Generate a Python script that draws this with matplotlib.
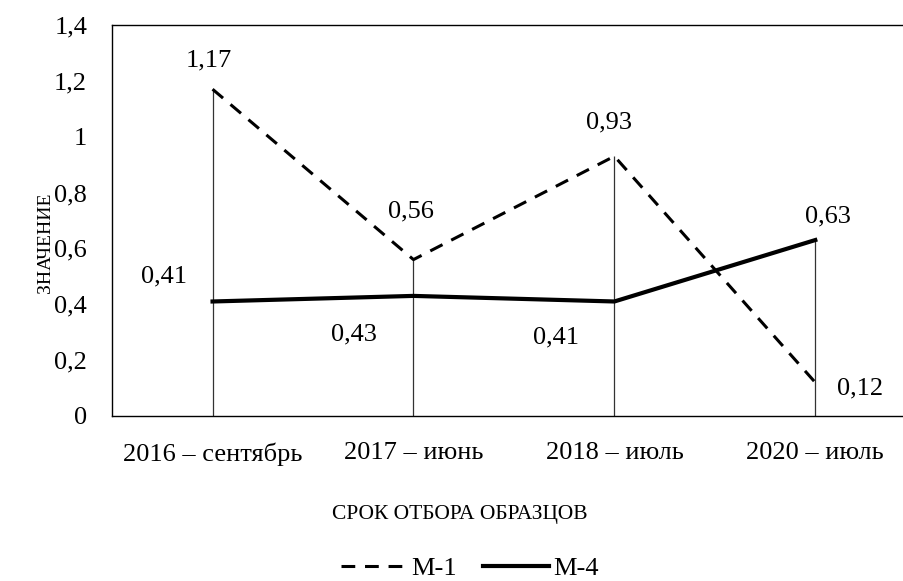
import matplotlib
matplotlib.use("Agg")
import matplotlib.pyplot as plt

plt.rcParams['font.family'] = ['Liberation Serif', 'DejaVu Serif']

# --- data ---
categories = ["2016 – сентябрь", "2017 – июнь", "2018 – июль", "2020 – июль"]
m1 = [1.17, 0.56, 0.93, 0.12]
m4 = [0.41, 0.43, 0.41, 0.63]
yticks = [0, 0.2, 0.4, 0.6, 0.8, 1.0, 1.2, 1.4]
ytick_labels = ["0", "0,2", "0,4", "0,6", "0,8", "1", "1,2", "1,4"]

# label offsets in points (placement only)
m1_offsets = [(-3, 21), (-2, 35), (-4, 24), (32, -4)]
m4_offsets = [(-35, 18), (-43, -28), (-42, -26), (9, 17)]

fig = plt.figure(figsize=(9.04, 5.81), dpi=100)
ax = fig.add_axes([0.124, 0.284, 0.889, 0.673])

x = list(range(len(categories)))

# drop lines from the highest point down to zero
tops = [max(a, b) for a, b in zip(m1, m4)]
ax.vlines(x, 0, tops, color="#333333", lw=0.9, zorder=1)

ax.plot(x, m1, color="black", lw=2.2, ls=(0, (4.5, 3.2)), label="М-1", zorder=3)
ax.plot(x, m4, color="black", lw=3.0, ls="-", label="М-4", zorder=3)

fs = 19
for xi, v, off in zip(x, m1, m1_offsets):
    ax.annotate(f"{v:.2f}".replace(".", ","), (xi, v), xytext=off,
                textcoords="offset points", ha="center", va="center", fontsize=fs)
for xi, v, off in zip(x, m4, m4_offsets):
    ax.annotate(f"{v:.2f}".replace(".", ","), (xi, v), xytext=off,
                textcoords="offset points", ha="center", va="center", fontsize=fs)

ax.set_xlim(-0.5, len(categories) - 0.5)
ax.set_ylim(0, 1.4)
ax.set_xticks(x)
ax.set_xticklabels(categories, fontsize=fs)
ax.set_yticks(yticks)
ax.set_yticklabels(ytick_labels, fontsize=fs)
ax.tick_params(axis="both", length=0)
ax.tick_params(axis="x", pad=19)
ax.tick_params(axis="y", pad=18)

for side in ["left", "bottom", "top"]:
    ax.spines[side].set_linewidth(1.0)
    ax.spines[side].set_color("black")
ax.spines["right"].set_visible(False)

fig.text(0.509, 0.114, "СРОК ОТБОРА ОБРАЗЦОВ", ha="center", va="center", fontsize=15.5)
fig.text(0.05, 0.582, "ЗНАЧЕНИЕ", ha="center", va="center", rotation=90, fontsize=14)

fig.legend(loc="center", bbox_to_anchor=(0.52, 0.022), ncol=2, frameon=False,
           fontsize=fs, handlelength=2.5, handletextpad=0.15, columnspacing=1.0,
           borderpad=0.1)

fig.savefig("out.png", dpi=100)
